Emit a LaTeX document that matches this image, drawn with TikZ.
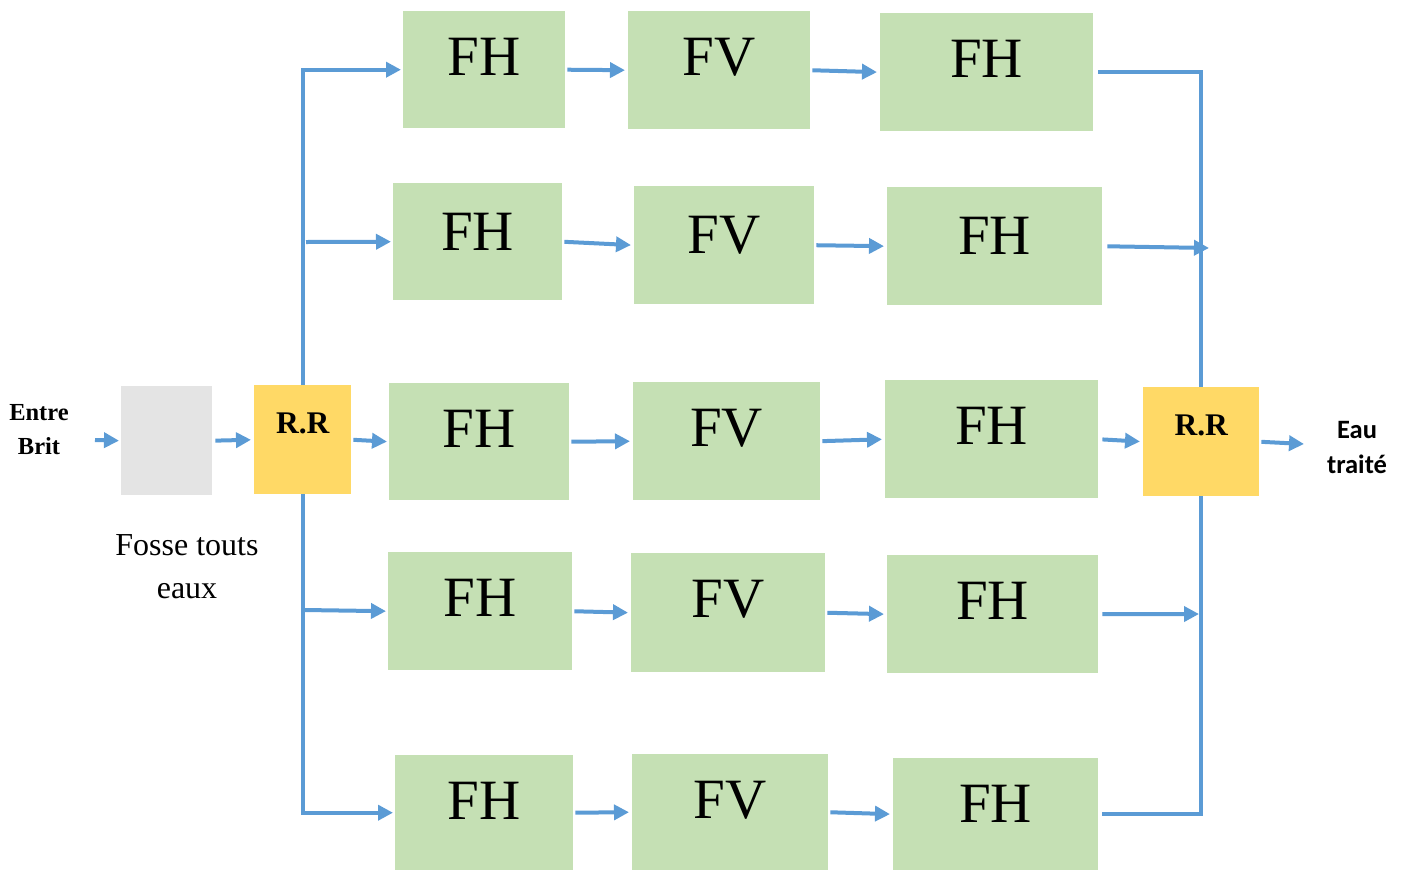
\documentclass[tikz,border=0pt]{standalone}
\usepackage{fontspec}
\setmainfont{Liberation Serif}
\newfontfamily\carlito{Carlito}
\usetikzlibrary{arrows.meta}
\definecolor{gfill}{HTML}{C5E0B4}
\definecolor{yfill}{HTML}{FFD966}
\definecolor{grfill}{HTML}{E4E4E4}
\definecolor{bline}{HTML}{5B9BD5}
\newcommand{\blk}[8]{%
  \pgfmathsetmacro\bw{#5-#3}\pgfmathsetmacro\bh{#6-#4}\pgfmathsetmacro\bd{\bh-#7}%
  \node[#2, anchor=north west, minimum width=\bw pt, minimum height=\bh pt,
        text height=#7pt, text depth=\bd pt] (#1) at (#3,#4) {#8};}
\begin{document}
\begin{tikzpicture}[x=1pt,y=-1pt,
  gbox/.style={fill=gfill, inner sep=0pt, font=\fontsize{57}{60}\selectfont},
  ybox/.style={fill=yfill, inner sep=0pt, font=\fontsize{31.5}{33}\selectfont\bfseries},
  grbox/.style={fill=grfill, inner sep=0pt},
  flow/.style={draw=bline, line width=4pt},
  arr/.style={flow, -{Triangle[length=15pt,width=15pt]}},
  lbl/.style={anchor=base, inner sep=0pt}]
\useasboundingbox (0,0) rectangle (1405,871);
% row 1
\blk{a1}{gbox}{403}{11}{565}{128}{64}{FH}
\blk{b1}{gbox}{628}{11}{810}{129}{64}{FV}
\blk{c1}{gbox}{880}{13}{1093}{131}{64}{FH}
% row 2
\blk{a2}{gbox}{393}{183}{562}{300}{67}{FH}
\blk{b2}{gbox}{634}{186}{814}{304}{67}{FV}
\blk{c2}{gbox}{887}{187}{1102}{305}{67}{FH}
% row 3
\blk{a3}{gbox}{389}{383}{569}{500}{64}{FH}
\blk{b3}{gbox}{633}{382}{820}{500}{64}{FV}
\blk{c3}{gbox}{885}{380}{1098}{498}{64}{FH}
% row 4
\blk{a4}{gbox}{388}{552}{572}{670}{64}{FH}
\blk{b4}{gbox}{631}{553}{825}{672}{64}{FV}
\blk{c4}{gbox}{887}{555}{1098}{673}{64}{FH}
% row 5
\blk{a5}{gbox}{395}{755}{573}{870}{64}{FH}
\blk{b5}{gbox}{632}{754}{828}{870}{64}{FV}
\blk{c5}{gbox}{893}{758}{1098}{870}{64}{FH}
% others
\blk{fosse}{grbox}{121}{386}{212}{495}{50}{}
\blk{rrL}{ybox}{254}{385}{351}{494}{48}{R.R}
\blk{rrR}{ybox}{1143}{387}{1259}{496}{48}{R.R}
% labels
\node[lbl, font=\fontsize{24.5}{26}\selectfont\bfseries] (e1) at (39,420) {Entre};
\node[lbl, font=\fontsize{24.5}{26}\selectfont\bfseries] (e2) at (39,454) {Brit};
\node[lbl, font=\carlito\fontsize{26.5}{28}\selectfont\bfseries] (o1) at (1357,438) {Eau};
\node[lbl, font=\carlito\fontsize{26.5}{28}\selectfont\bfseries] (o2) at (1357,473) {traité};
\node[lbl, font=\fontsize{32}{34}\selectfont] (f1) at (187,555) {Fosse touts};
\node[lbl, font=\fontsize{32}{34}\selectfont] (f2) at (187,598) {eaux};
% free ends
\coordinate (in) at (95,440);
\coordinate (out) at (1304,444);
\coordinate (t2) at (306,242);
\coordinate (t4) at (305,610);
\coordinate (r2) at (1209,248);
\coordinate (r4) at (1199,614);
% input
\draw[arr, shorten >=2pt] (in) -- (fosse.west);
\draw[arr, shorten <=3pt, shorten >=3pt] (fosse.east) -- (rrL.west);
% left distribution
\draw[arr, shorten >=2pt] (rrL.north) |- (a1.west);
\draw[arr, shorten >=2pt] (t2) -- (a2.west);
\draw[arr, shorten <=2pt, shorten >=2pt] (rrL.east) -- (a3.west);
\draw[arr, shorten >=2pt] (t4) -- (a4.west);
\draw[arr, shorten >=2pt] (rrL.south) |- (a5.west);
% rows
\foreach \r in {1,...,5}{
  \draw[arr, shorten <=2pt, shorten >=3pt] (a\r.east) -- (b\r.west);
  \draw[arr, shorten <=2pt, shorten >=3pt] (b\r.east) -- (c\r.west);
}
% right collection
\draw[flow, shorten <=5pt] (c1.east) -| (rrR.north);
\draw[arr, shorten <=5pt] (c2.east) -- (r2);
\draw[arr, shorten <=4pt, shorten >=3pt] (c3.east) -- (rrR.west);
\draw[arr, shorten <=4pt] (c4.east) -- (r4);
\draw[flow, shorten <=4pt] (c5.east) -| (rrR.south);
% output
\draw[arr, shorten <=2pt] (rrR.east) -- (out);
\end{tikzpicture}
\end{document}
